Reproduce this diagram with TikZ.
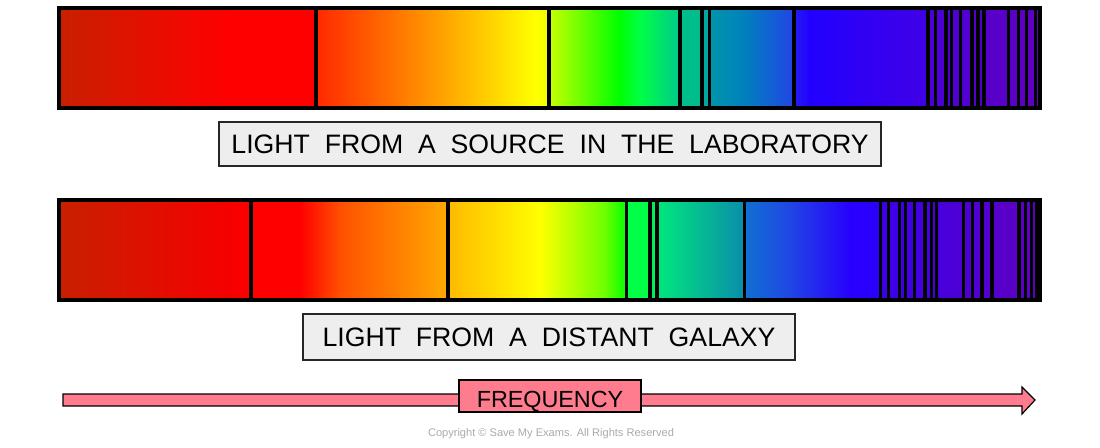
\documentclass[tikz,border=0pt]{standalone}
\usepackage{fontspec}
\setmainfont{Liberation Sans}
\newfontfamily\lblfont[WordSpace=2.0]{Liberation Sans}
\definecolor{arrowpink}{RGB}{255,123,142}
\definecolor{boxgray}{RGB}{238,238,238}
\definecolor{copygray}{RGB}{170,170,170}
\newcommand\seg[6]{\shade[left color=#5,right color=#6] (#1-0.4,#3) rectangle (#2+0.4,#4);}
\begin{document}
\begin{tikzpicture}[x=0.75pt,y=-0.75pt]
\useasboundingbox (0,0) rectangle (1100,447);
\tikzset{
  specline/.style={line width=2.5pt, draw=black},
  barframe/.style={line width=2.5pt, draw=black},
  labelbox/.style={draw=black!85, line width=0.9pt, fill=boxgray, inner sep=0pt, font=\lblfont\fontsize{20}{24}\selectfont},
  freqarrow/.style={draw=black, line width=0.9pt, fill=arrowpink, line join=miter},
  freqbox/.style={draw=black, line width=0.9pt, fill=arrowpink, inner sep=0pt, minimum width=136.5pt, minimum height=24pt, text height=17pt, text depth=0pt, font=\fontsize{17.5}{20}\selectfont},
  copynote/.style={text=copygray, font=\fontsize{8.3}{9}\selectfont, inner sep=0pt}
}
% ---------- top bar (laboratory) ----------
\seg{59}{230}{8}{108}{{rgb,255:red,200;green,32;blue,0}}{{rgb,255:red,255;green,0;blue,0}}
\seg{230}{316}{8}{108}{red}{red}
\seg{316}{430}{8}{108}{{rgb,255:red,255;green,40;blue,0}}{{rgb,255:red,255;green,150;blue,0}}
\seg{430}{535}{8}{108}{{rgb,255:red,255;green,150;blue,0}}{{rgb,255:red,255;green,255;blue,0}}
\seg{535}{549}{8}{108}{{rgb,255:red,255;green,255;blue,0}}{{rgb,255:red,240;green,255;blue,0}}
\seg{549}{619}{8}{108}{{rgb,255:red,200;green,255;blue,0}}{{rgb,255:red,0;green,255;blue,0}}
\seg{619}{640}{8}{108}{{rgb,255:red,0;green,255;blue,0}}{{rgb,255:red,0;green,255;blue,70}}
\seg{640}{680}{8}{108}{{rgb,255:red,0;green,255;blue,70}}{{rgb,255:red,0;green,200;blue,140}}
\seg{680}{702}{8}{108}{{rgb,255:red,0;green,190;blue,140}}{{rgb,255:red,0;green,190;blue,140}}
\seg{702}{709}{8}{108}{{rgb,255:red,0;green,168;blue,160}}{{rgb,255:red,0;green,168;blue,160}}
\seg{709}{745}{8}{108}{{rgb,255:red,0;green,150;blue,170}}{{rgb,255:red,0;green,128;blue,190}}
\seg{745}{794}{8}{108}{{rgb,255:red,0;green,128;blue,190}}{{rgb,255:red,34;green,68;blue,230}}
\seg{794}{810}{8}{108}{{rgb,255:red,36;green,30;blue,240}}{{rgb,255:red,34;green,0;blue,255}}
\seg{810}{928}{8}{108}{{rgb,255:red,34;green,0;blue,255}}{{rgb,255:red,64;green,0;blue,230}}
\seg{928}{1040}{8}{108}{{rgb,255:red,74;green,0;blue,215}}{{rgb,255:red,96;green,0;blue,192}}
\foreach \lx in {316,549,680,702,709.5,794,928,935.5,946,951.5,960.5,972,978,984,1008.5,1018.5,1026.5,1035.5}
  \draw[specline] (\lx,8) -- (\lx,108);
\draw[barframe] (59,8) rectangle (1040,108);
% ---------- bottom bar (galaxy) ----------
\seg{59}{230}{200}{300}{{rgb,255:red,200;green,32;blue,0}}{{rgb,255:red,245;green,0;blue,0}}
\seg{230}{251}{200}{300}{{rgb,255:red,245;green,0;blue,0}}{red}
\seg{251}{300}{200}{300}{red}{red}
\seg{300}{340}{200}{300}{red}{{rgb,255:red,255;green,80;blue,0}}
\seg{340}{448}{200}{300}{{rgb,255:red,255;green,80;blue,0}}{{rgb,255:red,255;green,170;blue,0}}
\seg{448}{540}{200}{300}{{rgb,255:red,255;green,185;blue,0}}{{rgb,255:red,255;green,255;blue,0}}
\seg{540}{605}{200}{300}{{rgb,255:red,255;green,255;blue,0}}{{rgb,255:red,110;green,255;blue,0}}
\seg{605}{626}{200}{300}{{rgb,255:red,110;green,255;blue,0}}{{rgb,255:red,0;green,255;blue,0}}
\seg{626}{650}{200}{300}{{rgb,255:red,0;green,255;blue,70}}{{rgb,255:red,0;green,255;blue,70}}
\seg{650}{657}{200}{300}{{rgb,255:red,0;green,240;blue,90}}{{rgb,255:red,0;green,240;blue,90}}
\seg{657}{745}{200}{300}{{rgb,255:red,0;green,232;blue,125}}{{rgb,255:red,10;green,140;blue,170}}
\seg{745}{790}{200}{300}{{rgb,255:red,16;green,112;blue,210}}{{rgb,255:red,32;green,70;blue,228}}
\seg{790}{850}{200}{300}{{rgb,255:red,32;green,70;blue,228}}{{rgb,255:red,40;green,0;blue,255}}
\seg{850}{880}{200}{300}{{rgb,255:red,40;green,0;blue,255}}{{rgb,255:red,44;green,0;blue,250}}
\seg{880}{1040}{200}{300}{{rgb,255:red,58;green,0;blue,235}}{{rgb,255:red,96;green,0;blue,192}}
\foreach \lx in {251,448,626.5,650,657,744.5,880.5,888.5,899.5,905.5,914.5,925,931.5,936.5,963.5,972.5,982,992,1019,1025.5,1031.5,1037}
  \draw[specline] (\lx,200) -- (\lx,300);
\draw[barframe] (59,200) rectangle (1040,300);
% ---------- labels ----------
\node[labelbox, minimum width=496.5pt, minimum height=33pt] (lab) at (550,144) {LIGHT FROM A SOURCE IN THE LABORATORY};
\node[labelbox, minimum width=369pt, minimum height=34.5pt] (gal) at (549,337) {LIGHT FROM A DISTANT GALAXY};
% ---------- frequency arrow ----------
\coordinate (tip) at (1035,400);
\draw[freqarrow] (63,394) -- (1022,394) -- (1022,387) -- (tip) -- (1022,414) -- (1022,406) -- (63,406) -- cycle;
\node[freqbox] (freq) at (550,396) {FREQUENCY};
\node[copynote] (copy) at (551,434) {Copyright © Save My Exams. All Rights Reserved};
\end{tikzpicture}
\end{document}
